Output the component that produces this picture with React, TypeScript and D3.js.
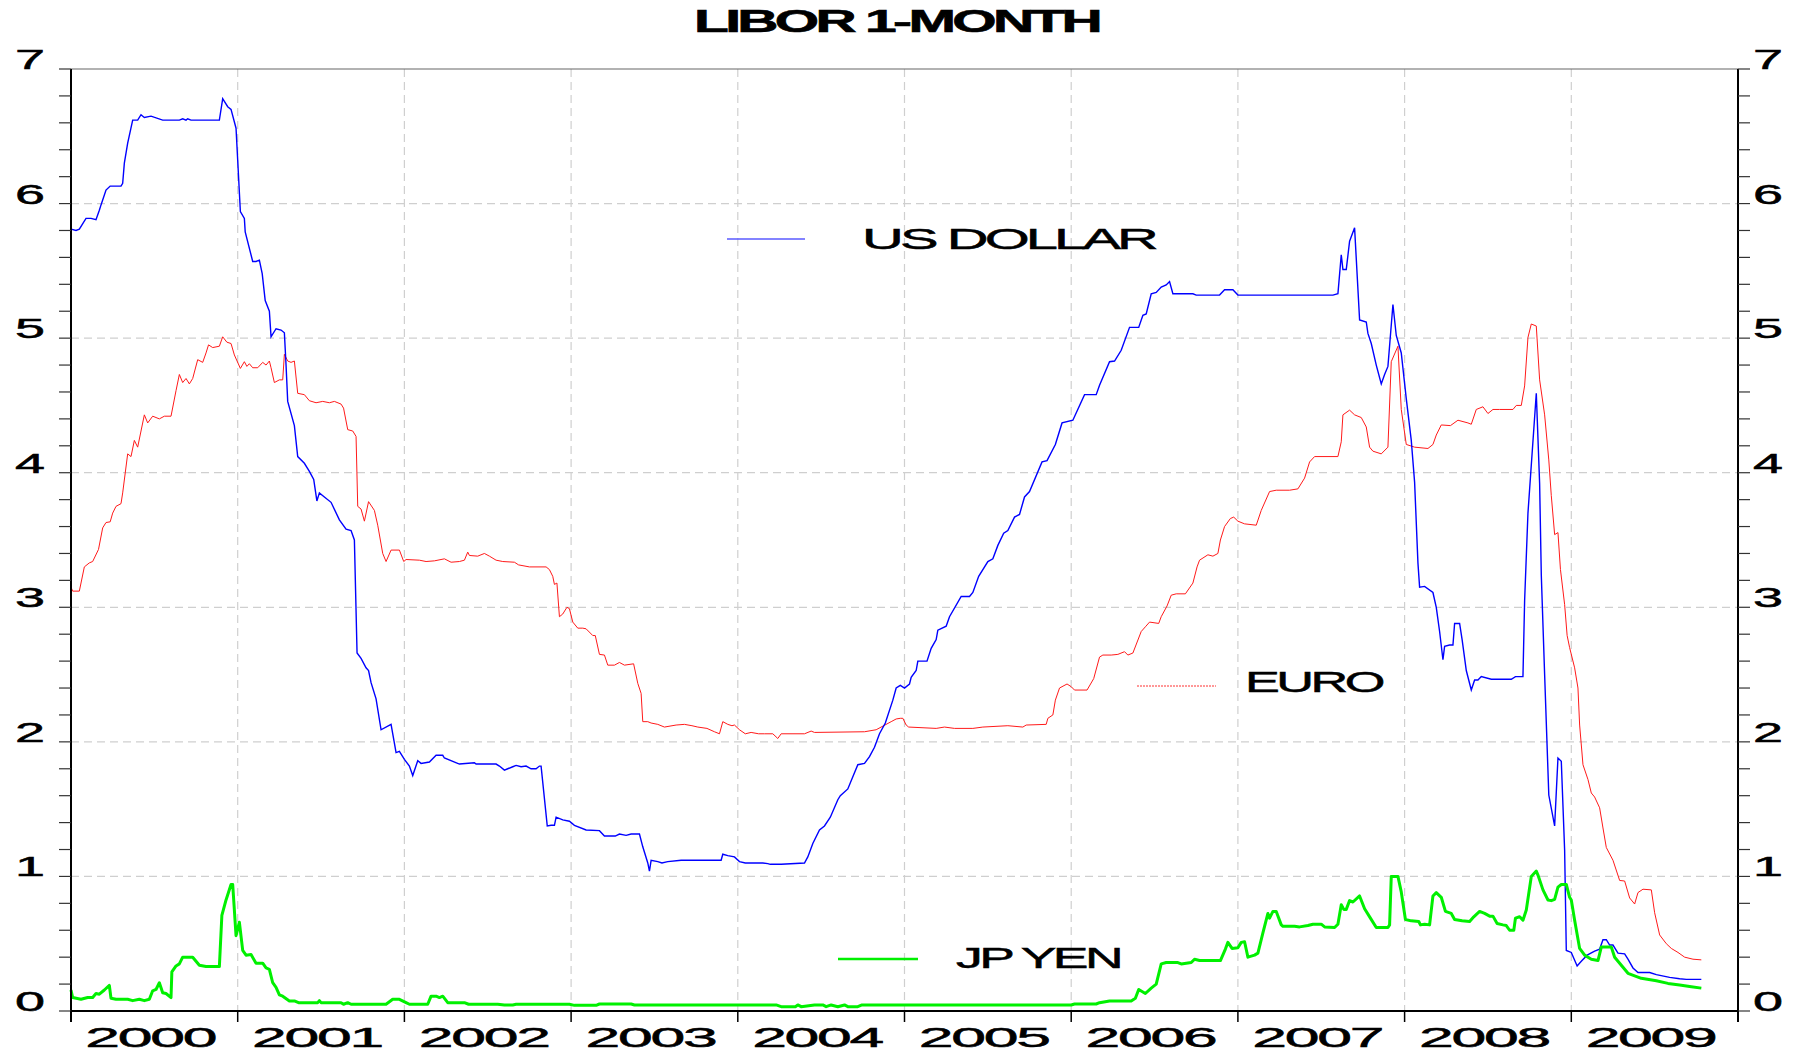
import React from "react";
import * as d3 from "d3";

// LIBOR 1-month rates (decimal year, percent)
const usDollar: [number, number][] = [
  [2000.0, 5.81], [2000.03, 5.8], [2000.05, 5.81], [2000.09, 5.89], [2000.12, 5.89], [2000.15, 5.88],
  [2000.17, 5.95], [2000.18, 5.99], [2000.21, 6.1], [2000.235, 6.13], [2000.3, 6.13], [2000.31, 6.15],
  [2000.32, 6.3], [2000.34, 6.45], [2000.37, 6.62], [2000.4, 6.62], [2000.42, 6.66], [2000.44, 6.64],
  [2000.48, 6.65], [2000.55, 6.62], [2000.65, 6.62], [2000.67, 6.63], [2000.69, 6.62], [2000.7, 6.63],
  [2000.72, 6.62], [2000.89, 6.62], [2000.91, 6.78], [2000.94, 6.72], [2000.96, 6.7], [2000.99, 6.56],
  [2001.016, 5.94], [2001.04, 5.89], [2001.045, 5.79], [2001.09, 5.57], [2001.11, 5.57], [2001.13, 5.58],
  [2001.147, 5.48], [2001.165, 5.28], [2001.19, 5.2], [2001.2, 5.01], [2001.23, 5.07], [2001.26, 5.06],
  [2001.28, 5.04], [2001.29, 4.8], [2001.3, 4.53], [2001.34, 4.35], [2001.36, 4.12], [2001.4, 4.07],
  [2001.43, 4.01], [2001.456, 3.95], [2001.475, 3.79], [2001.49, 3.85], [2001.52, 3.82], [2001.56, 3.78],
  [2001.61, 3.65], [2001.65, 3.58], [2001.68, 3.57], [2001.7, 3.5], [2001.716, 2.66], [2001.74, 2.62],
  [2001.77, 2.55], [2001.785, 2.53], [2001.8, 2.44], [2001.83, 2.32], [2001.86, 2.09], [2001.92, 2.13],
  [2001.95, 1.92], [2001.97, 1.93], [2002.0, 1.87], [2002.03, 1.82], [2002.05, 1.75], [2002.08, 1.86],
  [2002.1, 1.84], [2002.15, 1.85], [2002.19, 1.9], [2002.23, 1.9], [2002.24, 1.88], [2002.33, 1.835],
  [2002.42, 1.845], [2002.43, 1.835], [2002.55, 1.835], [2002.57, 1.82], [2002.6, 1.79], [2002.62, 1.8],
  [2002.65, 1.815], [2002.67, 1.825], [2002.7, 1.815], [2002.73, 1.82], [2002.76, 1.8], [2002.79, 1.8],
  [2002.81, 1.82], [2002.82, 1.82], [2002.857, 1.375], [2002.88, 1.38], [2002.9, 1.38], [2002.91, 1.44],
  [2002.95, 1.42], [2002.99, 1.41], [2003.02, 1.38], [2003.09, 1.345], [2003.17, 1.34], [2003.2, 1.3],
  [2003.265, 1.3], [2003.29, 1.315], [2003.33, 1.305], [2003.36, 1.315], [2003.41, 1.315], [2003.43, 1.22],
  [2003.46, 1.1], [2003.47, 1.04], [2003.48, 1.12], [2003.52, 1.11], [2003.545, 1.1], [2003.58, 1.11],
  [2003.66, 1.12], [2003.9, 1.12], [2003.91, 1.165], [2003.94, 1.155], [2003.98, 1.145], [2004.01, 1.11],
  [2004.045, 1.1], [2004.15, 1.1], [2004.18, 1.095], [2004.195, 1.09], [2004.26, 1.09], [2004.4, 1.1],
  [2004.42, 1.145], [2004.45, 1.245], [2004.49, 1.345], [2004.52, 1.375], [2004.555, 1.44], [2004.6, 1.57],
  [2004.615, 1.6], [2004.66, 1.65], [2004.69, 1.74], [2004.72, 1.83], [2004.76, 1.84], [2004.79, 1.89],
  [2004.82, 1.96], [2004.85, 2.06], [2004.885, 2.14], [2004.93, 2.31], [2004.95, 2.4], [2004.975, 2.42],
  [2005.0, 2.4], [2005.03, 2.43], [2005.04, 2.48], [2005.07, 2.53], [2005.08, 2.6], [2005.135, 2.6],
  [2005.16, 2.695], [2005.19, 2.76], [2005.2, 2.83], [2005.25, 2.86], [2005.27, 2.93], [2005.34, 3.08],
  [2005.39, 3.08], [2005.41, 3.11], [2005.445, 3.23], [2005.5, 3.34], [2005.53, 3.36], [2005.56, 3.46],
  [2005.595, 3.55], [2005.62, 3.57], [2005.66, 3.67], [2005.69, 3.69], [2005.72, 3.82], [2005.75, 3.86],
  [2005.825, 4.08], [2005.855, 4.09], [2005.905, 4.21], [2005.945, 4.37], [2006.01, 4.39], [2006.08, 4.58],
  [2006.15, 4.58], [2006.17, 4.65], [2006.23, 4.825], [2006.26, 4.83], [2006.3, 4.91], [2006.35, 5.08],
  [2006.405, 5.08], [2006.43, 5.17], [2006.45, 5.18], [2006.48, 5.33], [2006.51, 5.34], [2006.54, 5.38],
  [2006.57, 5.395], [2006.59, 5.42], [2006.61, 5.33], [2006.73, 5.33], [2006.75, 5.32], [2006.89, 5.32],
  [2006.92, 5.36], [2006.97, 5.36], [2007.0, 5.32], [2007.57, 5.32], [2007.6, 5.33], [2007.62, 5.62],
  [2007.63, 5.51], [2007.65, 5.51], [2007.67, 5.72], [2007.7, 5.82], [2007.73, 5.135], [2007.77, 5.12],
  [2007.78, 5.035], [2007.8, 4.96], [2007.83, 4.8], [2007.86, 4.66], [2007.88, 4.73], [2007.9, 4.79],
  [2007.93, 5.25], [2007.95, 5.02], [2007.98, 4.89], [2008.01, 4.55], [2008.04, 4.24], [2008.06, 3.93],
  [2008.08, 3.33], [2008.09, 3.15], [2008.12, 3.155], [2008.17, 3.11], [2008.19, 3.0], [2008.21, 2.82],
  [2008.23, 2.61], [2008.24, 2.71], [2008.27, 2.72], [2008.29, 2.72], [2008.3, 2.88], [2008.33, 2.88],
  [2008.345, 2.76], [2008.37, 2.53], [2008.4, 2.385], [2008.42, 2.46], [2008.44, 2.46], [2008.46, 2.485],
  [2008.52, 2.465], [2008.64, 2.465], [2008.665, 2.485], [2008.71, 2.485], [2008.72, 3.05], [2008.74, 3.7],
  [2008.79, 4.59], [2008.81, 3.92], [2008.82, 3.24], [2008.84, 2.5], [2008.865, 1.605], [2008.9, 1.375],
  [2008.92, 1.88], [2008.94, 1.855], [2008.96, 1.196], [2008.97, 0.45], [2009.0, 0.435], [2009.035, 0.335],
  [2009.06, 0.37], [2009.095, 0.415], [2009.14, 0.445], [2009.17, 0.46], [2009.19, 0.53], [2009.21, 0.53],
  [2009.23, 0.49], [2009.25, 0.49], [2009.28, 0.43], [2009.32, 0.425], [2009.34, 0.385], [2009.37, 0.32],
  [2009.4, 0.286], [2009.47, 0.286], [2009.51, 0.27], [2009.59, 0.25], [2009.65, 0.24], [2009.69, 0.235],
  [2009.78, 0.235],
];

const euro: [number, number][] = [
  [2000.0, 3.15], [2000.01, 3.12], [2000.05, 3.12], [2000.08, 3.3], [2000.11, 3.33], [2000.13, 3.34],
  [2000.165, 3.43], [2000.19, 3.59], [2000.21, 3.63], [2000.235, 3.635], [2000.25, 3.7], [2000.27, 3.75],
  [2000.3, 3.77], [2000.31, 3.85], [2000.34, 4.14], [2000.36, 4.12], [2000.38, 4.24], [2000.4, 4.19],
  [2000.44, 4.43], [2000.46, 4.37], [2000.49, 4.42], [2000.53, 4.4], [2000.56, 4.42], [2000.6, 4.42],
  [2000.63, 4.61], [2000.65, 4.73], [2000.67, 4.67], [2000.69, 4.7], [2000.71, 4.66], [2000.73, 4.7],
  [2000.76, 4.84], [2000.79, 4.82], [2000.81, 4.89], [2000.825, 4.95], [2000.85, 4.93], [2000.89, 4.94],
  [2000.91, 5.01], [2000.935, 4.97], [2000.96, 4.96], [2000.98, 4.875], [2001.016, 4.775], [2001.04, 4.825],
  [2001.055, 4.79], [2001.07, 4.81], [2001.09, 4.78], [2001.12, 4.78], [2001.15, 4.82], [2001.17, 4.8],
  [2001.19, 4.83], [2001.2, 4.78], [2001.22, 4.67], [2001.25, 4.69], [2001.27, 4.69], [2001.28, 4.88],
  [2001.3, 4.83], [2001.32, 4.82], [2001.34, 4.83], [2001.36, 4.59], [2001.4, 4.58], [2001.43, 4.535],
  [2001.47, 4.52], [2001.51, 4.53], [2001.55, 4.52], [2001.58, 4.53], [2001.62, 4.51], [2001.635, 4.48],
  [2001.66, 4.32], [2001.69, 4.31], [2001.71, 4.27], [2001.72, 3.75], [2001.74, 3.73], [2001.76, 3.64],
  [2001.785, 3.785], [2001.82, 3.72], [2001.84, 3.61], [2001.87, 3.4], [2001.89, 3.34], [2001.92, 3.425],
  [2001.97, 3.425], [2001.996, 3.34], [2002.01, 3.355], [2002.09, 3.35], [2002.13, 3.34], [2002.18, 3.345],
  [2002.24, 3.36], [2002.28, 3.335], [2002.33, 3.34], [2002.36, 3.35], [2002.38, 3.41], [2002.39, 3.385],
  [2002.44, 3.38], [2002.48, 3.4], [2002.51, 3.38], [2002.55, 3.35], [2002.59, 3.34], [2002.66, 3.335],
  [2002.685, 3.315], [2002.75, 3.3], [2002.85, 3.3], [2002.87, 3.28], [2002.89, 3.23], [2002.9, 3.17],
  [2002.915, 3.18], [2002.93, 2.93], [2002.95, 2.95], [2002.975, 3.0], [2002.99, 2.99], [2003.01, 2.89],
  [2003.04, 2.845], [2003.07, 2.845], [2003.09, 2.84], [2003.13, 2.79], [2003.145, 2.79], [2003.17, 2.65],
  [2003.2, 2.645], [2003.22, 2.57], [2003.26, 2.57], [2003.29, 2.59], [2003.32, 2.57], [2003.375, 2.58],
  [2003.4, 2.435], [2003.42, 2.36], [2003.43, 2.15], [2003.46, 2.15], [2003.48, 2.14], [2003.52, 2.13],
  [2003.56, 2.11], [2003.63, 2.125], [2003.68, 2.13], [2003.725, 2.12], [2003.76, 2.11], [2003.815, 2.1],
  [2003.86, 2.075], [2003.89, 2.06], [2003.91, 2.15], [2003.94, 2.13], [2003.965, 2.12], [2003.98, 2.125],
  [2004.01, 2.09], [2004.045, 2.06], [2004.08, 2.07], [2004.125, 2.06], [2004.16, 2.06], [2004.21, 2.06],
  [2004.24, 2.025], [2004.26, 2.06], [2004.4, 2.06], [2004.44, 2.08], [2004.46, 2.07], [2004.76, 2.075],
  [2004.83, 2.09], [2004.92, 2.15], [2004.95, 2.17], [2004.975, 2.175], [2004.99, 2.175], [2005.01, 2.125],
  [2005.025, 2.11], [2005.19, 2.1], [2005.24, 2.11], [2005.3, 2.1], [2005.41, 2.1], [2005.47, 2.11],
  [2005.62, 2.12], [2005.71, 2.11], [2005.73, 2.125], [2005.85, 2.13], [2005.86, 2.175], [2005.89, 2.2],
  [2005.905, 2.31], [2005.93, 2.4], [2005.975, 2.43], [2006.0, 2.41], [2006.02, 2.385], [2006.095, 2.385],
  [2006.135, 2.47], [2006.17, 2.63], [2006.19, 2.645], [2006.24, 2.645], [2006.28, 2.65], [2006.32, 2.67],
  [2006.34, 2.645], [2006.37, 2.66], [2006.42, 2.82], [2006.445, 2.855], [2006.47, 2.89], [2006.525, 2.88],
  [2006.54, 2.93], [2006.575, 3.01], [2006.6, 3.09], [2006.63, 3.1], [2006.685, 3.1], [2006.73, 3.18],
  [2006.755, 3.3], [2006.77, 3.35], [2006.82, 3.39], [2006.85, 3.38], [2006.88, 3.4], [2006.895, 3.5],
  [2006.92, 3.6], [2006.955, 3.66], [2006.975, 3.67], [2007.0, 3.64], [2007.04, 3.62], [2007.11, 3.61],
  [2007.14, 3.72], [2007.19, 3.86], [2007.23, 3.87], [2007.31, 3.87], [2007.36, 3.88], [2007.4, 3.96],
  [2007.43, 4.08], [2007.46, 4.12], [2007.6, 4.12], [2007.62, 4.23], [2007.63, 4.43], [2007.67, 4.465],
  [2007.7, 4.43], [2007.74, 4.41], [2007.77, 4.34], [2007.79, 4.19], [2007.81, 4.16], [2007.86, 4.14],
  [2007.9, 4.19], [2007.92, 4.825], [2007.96, 4.94], [2007.98, 4.47], [2008.01, 4.21], [2008.06, 4.19],
  [2008.14, 4.18], [2008.17, 4.21], [2008.19, 4.28], [2008.22, 4.355], [2008.275, 4.35], [2008.32, 4.39],
  [2008.38, 4.37], [2008.4, 4.36], [2008.43, 4.47], [2008.47, 4.49], [2008.5, 4.44], [2008.53, 4.47],
  [2008.57, 4.47], [2008.65, 4.47], [2008.67, 4.5], [2008.7, 4.5], [2008.72, 4.645], [2008.74, 5.005],
  [2008.76, 5.105], [2008.79, 5.09], [2008.81, 4.69], [2008.84, 4.43], [2008.865, 4.095], [2008.88, 3.83],
  [2008.9, 3.54], [2008.92, 3.555], [2008.935, 3.28], [2008.96, 3.02], [2008.975, 2.79], [2008.99, 2.7],
  [2009.02, 2.55], [2009.04, 2.4], [2009.05, 2.125], [2009.07, 1.83], [2009.1, 1.72], [2009.12, 1.62],
  [2009.14, 1.59], [2009.17, 1.51], [2009.19, 1.36], [2009.21, 1.215], [2009.25, 1.12], [2009.29, 0.97],
  [2009.32, 0.966], [2009.35, 0.84], [2009.38, 0.795], [2009.4, 0.88], [2009.43, 0.905], [2009.48, 0.9],
  [2009.5, 0.73], [2009.53, 0.565], [2009.57, 0.5], [2009.6, 0.465], [2009.64, 0.435], [2009.68, 0.4],
  [2009.73, 0.385], [2009.78, 0.38],
];

const jpYen: [number, number][] = [
  [2000.0, 0.156], [2000.01, 0.1], [2000.06, 0.087], [2000.1, 0.1], [2000.13, 0.1], [2000.15, 0.13],
  [2000.17, 0.125], [2000.2, 0.156], [2000.23, 0.19], [2000.24, 0.095], [2000.27, 0.087], [2000.34, 0.087],
  [2000.37, 0.077], [2000.41, 0.087], [2000.44, 0.077], [2000.47, 0.087], [2000.49, 0.15], [2000.51, 0.16],
  [2000.53, 0.21], [2000.55, 0.136], [2000.57, 0.13], [2000.6, 0.1], [2000.605, 0.29], [2000.63, 0.335],
  [2000.65, 0.35], [2000.67, 0.4], [2000.71, 0.4], [2000.73, 0.4], [2000.77, 0.34], [2000.81, 0.33],
  [2000.89, 0.33], [2000.905, 0.71], [2000.93, 0.825], [2000.96, 0.94], [2000.97, 0.94], [2000.99, 0.56],
  [2001.01, 0.66], [2001.03, 0.45], [2001.05, 0.415], [2001.08, 0.42], [2001.11, 0.355], [2001.15, 0.355],
  [2001.17, 0.32], [2001.19, 0.31], [2001.21, 0.21], [2001.23, 0.176], [2001.25, 0.12], [2001.27, 0.11],
  [2001.31, 0.075], [2001.34, 0.075], [2001.365, 0.062], [2001.48, 0.062], [2001.49, 0.077], [2001.5, 0.062],
  [2001.62, 0.062], [2001.635, 0.05], [2001.66, 0.062], [2001.68, 0.05], [2001.89, 0.05], [2001.93, 0.087],
  [2001.97, 0.087], [2002.01, 0.062], [2002.03, 0.05], [2002.14, 0.05], [2002.16, 0.11], [2002.19, 0.11],
  [2002.21, 0.1], [2002.23, 0.11], [2002.26, 0.062], [2002.36, 0.062], [2002.385, 0.05], [2002.56, 0.05],
  [2002.6, 0.045], [2002.65, 0.045], [2002.67, 0.05], [2002.99, 0.05], [2003.02, 0.042], [2003.15, 0.042],
  [2003.17, 0.052], [2003.36, 0.052], [2003.38, 0.045], [2004.23, 0.045], [2004.26, 0.032], [2004.345, 0.032],
  [2004.36, 0.045], [2004.38, 0.032], [2004.46, 0.045], [2004.51, 0.045], [2004.53, 0.032], [2004.56, 0.045],
  [2004.6, 0.032], [2004.64, 0.045], [2004.66, 0.032], [2004.72, 0.032], [2004.745, 0.045], [2006.0, 0.045],
  [2006.02, 0.052], [2006.15, 0.052], [2006.17, 0.062], [2006.23, 0.075], [2006.36, 0.075], [2006.385, 0.095],
  [2006.405, 0.16], [2006.445, 0.13], [2006.48, 0.17], [2006.51, 0.2], [2006.54, 0.35], [2006.57, 0.36],
  [2006.64, 0.36], [2006.66, 0.35], [2006.72, 0.36], [2006.74, 0.385], [2006.77, 0.375], [2006.895, 0.375],
  [2006.925, 0.46], [2006.94, 0.51], [2006.965, 0.465], [2007.0, 0.47], [2007.02, 0.51], [2007.04, 0.515],
  [2007.06, 0.4], [2007.1, 0.415], [2007.12, 0.43], [2007.15, 0.58], [2007.18, 0.725], [2007.19, 0.69],
  [2007.21, 0.74], [2007.23, 0.74], [2007.26, 0.64], [2007.27, 0.63], [2007.34, 0.63], [2007.37, 0.625],
  [2007.42, 0.635], [2007.45, 0.645], [2007.5, 0.645], [2007.52, 0.625], [2007.58, 0.62], [2007.6, 0.645],
  [2007.62, 0.79], [2007.635, 0.755], [2007.65, 0.755], [2007.67, 0.82], [2007.69, 0.81], [2007.73, 0.855],
  [2007.76, 0.76], [2007.795, 0.69], [2007.83, 0.62], [2007.9, 0.62], [2007.91, 0.64], [2007.92, 1.0],
  [2007.96, 1.0], [2007.98, 0.885], [2008.005, 0.68], [2008.04, 0.67], [2008.085, 0.665], [2008.095, 0.64],
  [2008.12, 0.645], [2008.15, 0.64], [2008.17, 0.855], [2008.19, 0.88], [2008.22, 0.845], [2008.245, 0.74],
  [2008.28, 0.725], [2008.3, 0.68], [2008.345, 0.67], [2008.39, 0.665], [2008.415, 0.7], [2008.45, 0.74],
  [2008.48, 0.725], [2008.51, 0.705], [2008.53, 0.705], [2008.555, 0.65], [2008.59, 0.64], [2008.61, 0.635],
  [2008.63, 0.6], [2008.655, 0.6], [2008.665, 0.69], [2008.69, 0.7], [2008.71, 0.675], [2008.73, 0.75],
  [2008.76, 1.0], [2008.79, 1.04], [2008.8, 1.01], [2008.83, 0.9], [2008.86, 0.825], [2008.88, 0.82],
  [2008.9, 0.83], [2008.92, 0.92], [2008.94, 0.94], [2008.97, 0.94], [2008.99, 0.845], [2009.0, 0.825],
  [2009.02, 0.675], [2009.05, 0.465], [2009.08, 0.415], [2009.12, 0.385], [2009.16, 0.375], [2009.18, 0.475],
  [2009.24, 0.475], [2009.26, 0.4], [2009.29, 0.355], [2009.34, 0.28], [2009.42, 0.243], [2009.51, 0.225],
  [2009.58, 0.205], [2009.65, 0.193], [2009.72, 0.18], [2009.78, 0.17],
];

const yearLabels = ["2000", "2001", "2002", "2003", "2004", "2005", "2006", "2007", "2008", "2009"];
const yTickValues = [0, 1, 2, 3, 4, 5, 6, 7];
const chartTitle = "LIBOR 1-MONTH";

const W = 1796;
const H = 1053;
const FONT = "'Liberation Sans', Arial, sans-serif";

// stretched, tightly spaced text (old EViews look)
function Wide(props: { x: number; y: number; size: number; len: number; ls?: number; bold?: boolean; children: React.ReactNode }) {
  const { x, y, size, len, ls = -2, bold, children } = props;
  return (
    <text
      x={x}
      y={y}
      fontSize={size}
      fontWeight={bold ? "bold" : "normal"}
      letterSpacing={ls}
      textLength={len}
      lengthAdjust="spacingAndGlyphs"
      fill="#000"
      stroke="#000"
      strokeWidth={bold ? 0.6 : 0.5}
    >
      {children}
    </text>
  );
}

export default function App() {
  const x = d3.scaleLinear().domain([2000, 2010]).range([71, 1738]);
  const y = d3.scaleLinear().domain([0, 7]).range([1011, 69]);
  const line = d3.line<[number, number]>().x((d) => x(d[0])).y((d) => y(d[1]));

  const minor = d3.range(0, 7.0001, 0.2);
  const yearBounds = d3.range(2000, 2011);
  const [x0, x1] = x.range();
  const [yb, yt] = y.range();

  const grid = "#cfcfcf";

  return (
    <svg
      width={W}
      height={H}
      style={{ position: "absolute", left: 0, top: 0, background: "#fff" }}
      fontFamily={FONT}
    >
      <rect width={W} height={H} fill="#fff" />

      {/* grid */}
      {yTickValues.slice(1, 7).map((v) => (
        <line key={"gy" + v} x1={x0} x2={x1} y1={y(v)} y2={y(v)} stroke={grid} strokeWidth={1.2} strokeDasharray="8,5" />
      ))}
      {yearBounds.slice(1, 10).map((t) => (
        <line key={"gx" + t} x1={x(t)} x2={x(t)} y1={yt} y2={yb} stroke={grid} strokeWidth={1.2} strokeDasharray="8,5" />
      ))}

      {/* series */}
      <path d={line(euro) || ""} fill="none" stroke="#ff1a1a" strokeWidth={1} />
      <path d={line(usDollar) || ""} fill="none" stroke="#0000ff" strokeWidth={1.4} />
      <path d={line(jpYen) || ""} fill="none" stroke="#00f000" strokeWidth={3} strokeLinejoin="round" />

      {/* frame */}
      <line x1={x0} x2={x1} y1={yt} y2={yt} stroke="#666" strokeWidth={1.2} />
      <line x1={x0} x2={x1} y1={yb} y2={yb} stroke="#000" strokeWidth={1.8} />
      <line x1={x0} x2={x0} y1={yt} y2={yb + 11} stroke="#000" strokeWidth={2} />
      <line x1={x1} x2={x1} y1={yt} y2={yb + 11} stroke="#000" strokeWidth={2} />

      {/* y ticks */}
      {minor.map((v, i) => (
        <g key={"t" + i}>
          <line x1={x0 - 12} x2={x0} y1={y(v)} y2={y(v)} stroke="#333" strokeWidth={1.2} />
          <line x1={x1} x2={x1 + 12} y1={y(v)} y2={y(v)} stroke="#333" strokeWidth={1.2} />
        </g>
      ))}
      {yTickValues.map((v) => (
        <g key={"yl" + v}>
          <Wide x={15} y={y(v)} size={28} len={30} ls={0}>
            {v}
          </Wide>
          <Wide x={1753} y={y(v)} size={28} len={30} ls={0}>
            {v}
          </Wide>
        </g>
      ))}

      {/* x ticks */}
      {yearBounds.map((t) => (
        <line key={"xt" + t} x1={x(t)} x2={x(t)} y1={yb} y2={yb + 11} stroke="#000" strokeWidth={1.5} />
      ))}
      {yearLabels.map((lab, i) => (
        <Wide key={lab} x={x(2000 + i + 0.5) - 4 - 65} y={1047} size={28} len={130} ls={-1}>
          {lab}
        </Wide>
      ))}

      {/* title */}
      <Wide x={694} y={32} size={31} len={405} ls={-2} bold>
        {chartTitle}
      </Wide>

      {/* in-plot legend */}
      <line x1={727} x2={805} y1={239} y2={239} stroke="#5a5aff" strokeWidth={1.5} />
      <Wide x={862} y={249} size={30} len={293} ls={-2}>
        US DOLLAR
      </Wide>
      <line x1={1137} x2={1216} y1={686} y2={686} stroke="#ff3030" strokeWidth={1} strokeDasharray="2,1" />
      <Wide x={1245} y={692} size={30} len={137} ls={-2}>
        EURO
      </Wide>
      <line x1={838} x2={918} y1={959} y2={959} stroke="#00f000" strokeWidth={2.5} />
      <Wide x={956} y={968} size={30} len={164} ls={-2}>
        JP YEN
      </Wide>
    </svg>
  );
}
